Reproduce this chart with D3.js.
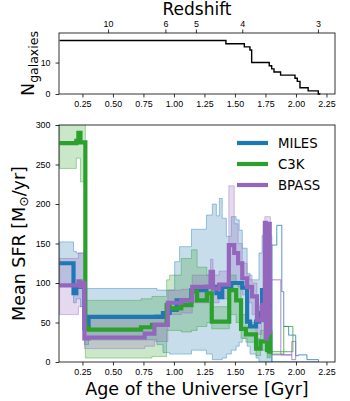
<!DOCTYPE html>
<html lang="en">
<head>
<meta charset="UTF-8">
<title>Mean SFR vs age of the Universe</title>
<script src="https://d3js.org/d3.v7.min.js"></script>
<style>
  body { margin: 0; background: white; }
  svg { display: block; font-family: "DejaVu Sans", sans-serif; }
  .tick text { font-size: 8.9px; fill: #000; }
  .tick line { stroke: #000; stroke-width: 0.8; }
</style>
</head>
<body>
<svg width="350" height="401"></svg>
<script>
// ---- data (ages in Gyr, step starts; last entry closes the step) ----
const nAge   = [0.063, 1.426, 1.577, 1.623, 1.637, 1.781, 1.801, 1.82, 1.874, 1.992, 2.011, 2.033, 2.10, 2.183, 2.20];
const nCount = [17, 16, 15, 14, 10, 9, 8, 7, 6, 5, 4, 2, 1, 0, 0];

const zLabels = ["10", "6", "5", "4", "3"];
const zAges   = [0.46, 0.93, 1.18, 1.56, 2.18];

const ageTicks = [0.25, 0.5, 0.75, 1.0, 1.25, 1.5, 1.75, 2.0, 2.25];
const sfrTicks = [0, 50, 100, 150, 200, 250, 300];

const milesAge  = [0.063,0.177,0.20,0.234,0.266,0.30,0.86,0.91,0.965,1.006,1.022,1.046,1.144,1.266,1.315,1.348,1.372,1.396,1.43,1.47,1.51,1.535,1.56,1.60,1.624,1.673,1.697,1.722,1.762,1.803];
const milesMean = [125,87,95,100,43,57,57,62,66,66,78,78,91,95,95,87,82,95,95,100,100,100,94,51,45,51,62,91,72,72];
const milesLo   = [98,75,80,70,22,28,22,12,10,10,10,10,15,10,3,3,3,5,10,15,20,25,30,20,10,5,0,0,0,0];
const milesHi   = [152,140,138,138,93,93,91,91,91,127,127,146,168,186,200,185,207,182,159,184,180,167,144,112,104,104,138,160,160,160];
const milesTailAge = [1.803,1.843,1.884,1.90,1.94,1.998,2.02,2.09,2.185];
const milesTailLo  = [0,0,0,0,0,0,0,0,0];
const milesTailHi  = [148,173,89,45,34,8,9,3,3];

const c3kAge  = [0.063,0.20,0.217,0.234,0.274,0.30,0.73,0.82,0.94,0.965,1.06,1.144,1.19,1.27,1.31,1.453,1.51,1.55,1.59,1.673,1.71,1.754,1.763,1.772,1.781,1.79,1.80];
const c3kMean = [277,280,290,278,43,41,44,47,72,68,72,89,78,87,51,91,78,42,35,17,26,58,15,55,13,40,40];
const c3kLo   = [245,258,258,228,5,5,5,7,40,40,38,40,45,50,42,60,50,30,25,8,15,20,5,20,5,10,10];
const c3kHi   = [320,320,320,320,78,78,80,83,104,110,131,142,120,110,70,110,100,60,50,30,40,70,70,70,70,60,60];
const c3kTailAge = [1.80,1.90,1.975];
const c3kTailLo  = [10,13,13];
const c3kTailHi  = [13,45,45];

const bpassAge  = [0.063,0.217,0.234,0.25,0.266,0.30,0.76,0.84,0.95,1.06,1.15,1.30,1.32,1.37,1.45,1.494,1.526,1.56,1.60,1.64,1.68,1.72,1.745,1.753,1.761,1.769,1.777,1.785,1.79];
const bpassMean = [97,102,96,100,30,31,36,47,75,78,95,114,93,98,148,138,125,106,95,83,53,72,176,30,170,40,175,35,35];
const bpassLo   = [60,70,70,70,17,17,20,26,60,62,75,90,75,80,100,100,95,85,75,60,35,55,30,30,30,30,30,30,30];
const bpassHi   = [131,138,138,138,55,55,55,60,91,92,110,130,110,115,223,175,150,125,110,100,70,90,184,184,184,184,184,184,184];
const bpassTailAge = [1.80,1.876,1.966,1.998];
const bpassTailLo  = [9,9,3,3];
const bpassTailHi  = [104,9,26,26];

const seriesNames  = ["MILES", "C3K", "BPASS"];
const seriesColors = ["#1f77b4", "#2ca02c", "#9467bd"];

// ---- build records ----
const recs = (age, mean, lo, hi) => age.map((a, i) => ({ age: a, mean: mean ? mean[i] : null, lo: lo[i], hi: hi[i] }));
const series = [
  { main: recs(milesAge, milesMean, milesLo, milesHi), tail: recs(milesTailAge, null, milesTailLo, milesTailHi) },
  { main: recs(c3kAge, c3kMean, c3kLo, c3kHi),         tail: recs(c3kTailAge, null, c3kTailLo, c3kTailHi) },
  { main: recs(bpassAge, bpassMean, bpassLo, bpassHi), tail: recs(bpassTailAge, null, bpassTailLo, bpassTailHi) }
];

const svg = d3.select("svg");
const left = 59, right = 335;

const x = d3.scaleLinear().domain([0.058, 2.32]).range([left, right]);
const yTop = d3.scaleLinear().domain([0, 19.4]).range([94, 33]);
const y = d3.scaleLinear().domain([0, 300]).range([362, 125]);

svg.append("clipPath").attr("id", "clipMain")
  .append("rect").attr("x", left).attr("y", 125).attr("width", right - left).attr("height", 237);

// ---- top panel: number of galaxies ----
svg.append("path")
  .datum(nAge.map((a, i) => [a, nCount[i]]))
  .attr("fill", "none")
  .attr("stroke", "#000")
  .attr("stroke-width", 1.4)
  .attr("d", d3.line().x(d => x(d[0])).y(d => yTop(d[1])).curve(d3.curveStepAfter));

svg.append("rect")
  .attr("x", left).attr("y", 33).attr("width", right - left).attr("height", 61)
  .attr("fill", "none").attr("stroke", "#000").attr("stroke-width", 0.8);

svg.append("g").attr("transform", "translate(0,94)")
  .call(d3.axisBottom(x).tickValues(ageTicks).tickFormat(d3.format(".2f")).tickSize(3.5).tickPadding(3))
  .call(g => g.select(".domain").remove());

svg.append("g").attr("transform", "translate(0,33)")
  .call(d3.axisTop(x).tickValues(zAges).tickFormat((d, i) => zLabels[i]).tickSize(3.5).tickPadding(3))
  .call(g => g.select(".domain").remove());

svg.append("g").attr("transform", `translate(${left},0)`)
  .call(d3.axisLeft(yTop).tickValues([0, 10]).tickSize(3.5).tickPadding(5))
  .call(g => g.select(".domain").remove());

svg.append("text")
  .attr("x", 197).attr("y", 15)
  .attr("text-anchor", "middle")
  .attr("font-size", 17)
  .text("Redshift");

const nLab = svg.append("text")
  .attr("transform", "translate(34,63.5) rotate(-90)")
  .attr("text-anchor", "middle")
  .attr("font-size", 17.5);
nLab.append("tspan").text("N");
nLab.append("tspan").attr("font-size", 12.5).attr("dy", 3.5).text("galaxies");

// ---- main panel: mean SFR ----
const plot = svg.append("g").attr("clip-path", "url(#clipMain)");

const band = d3.area()
  .x(d => x(d.age)).y0(d => y(d.lo)).y1(d => y(d.hi))
  .curve(d3.curveStepAfter);
const meanLine = d3.line()
  .x(d => x(d.age)).y(d => y(d.mean))
  .curve(d3.curveStepAfter);

series.forEach((s, i) => {
  plot.append("path")
    .datum(s.main)
    .attr("d", band)
    .attr("fill", seriesColors[i]).attr("fill-opacity", 0.25)
    .attr("stroke", seriesColors[i]).attr("stroke-opacity", 0.5).attr("stroke-width", 0.8);
  plot.append("path")
    .datum(s.tail)
    .attr("d", band)
    .attr("fill", "none")
    .attr("stroke", seriesColors[i]).attr("stroke-opacity", 0.85).attr("stroke-width", 0.9);
});

series.forEach((s, i) => {
  plot.append("path")
    .datum(s.main)
    .attr("d", meanLine)
    .attr("fill", "none")
    .attr("stroke", seriesColors[i])
    .attr("stroke-width", 4.2);
});

svg.append("rect")
  .attr("x", left).attr("y", 125).attr("width", right - left).attr("height", 237)
  .attr("fill", "none").attr("stroke", "#000").attr("stroke-width", 0.8);

svg.append("g").attr("transform", "translate(0,362)")
  .call(d3.axisBottom(x).tickValues(ageTicks).tickFormat(d3.format(".2f")).tickSize(3.5).tickPadding(3))
  .call(g => g.select(".domain").remove());

svg.append("g").attr("transform", `translate(${left},0)`)
  .call(d3.axisLeft(y).tickValues(sfrTicks).tickSize(3.5).tickPadding(5))
  .call(g => g.select(".domain").remove());

svg.append("text")
  .attr("x", 197).attr("y", 395)
  .attr("text-anchor", "middle")
  .attr("font-size", 17.5)
  .text("Age of the Universe [Gyr]");

const sfrLab = svg.append("text")
  .attr("transform", "translate(25,243.5) rotate(-90)")
  .attr("text-anchor", "middle")
  .attr("font-size", 17.5);
sfrLab.append("tspan").text("Mean SFR [M");
sfrLab.append("tspan").attr("font-size", 12.5).attr("dy", 2.5).text("\u2299");
sfrLab.append("tspan").attr("dy", -2.5).text("/yr]");

// ---- legend ----
const legend = svg.append("g");
seriesNames.forEach((name, i) => {
  const ly = 143 + i * 21;
  legend.append("line")
    .attr("x1", 237).attr("x2", 268).attr("y1", ly).attr("y2", ly)
    .attr("stroke", seriesColors[i]).attr("stroke-width", 4.2);
  legend.append("text")
    .attr("x", 278).attr("y", ly).attr("dy", "0.36em")
    .attr("font-size", 13.3)
    .text(name);
});
</script>
</body>
</html>
